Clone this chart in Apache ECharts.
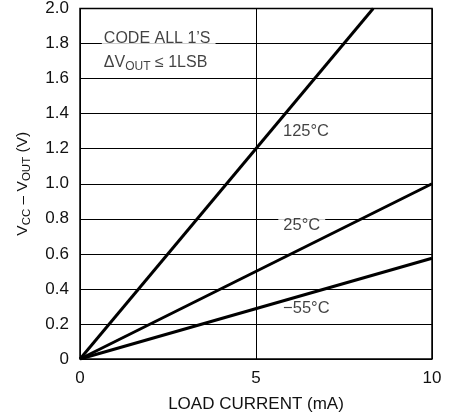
<!DOCTYPE html>
<html><head><meta charset="utf-8">
<script src="https://cdn.jsdelivr.net/npm/echarts@6/dist/echarts.min.js"></script>
<style>html,body{margin:0;padding:0;background:#fff}#c{width:458px;height:419px}</style>
</head><body><div id="c"></div>
<script>
var xTicks = [0, 5, 10];
var yTicks = [0, 0.2, 0.4, 0.6, 0.8, 1.0, 1.2, 1.4, 1.6, 1.8, 2.0];
var seriesNames = ['125°C', '25°C', '−55°C'];
var current125 = [0, 8.33];
var volt125 = [0, 2.0];
var current25 = [0, 10];
var volt25 = [0, 1.0];
var currentM55 = [0, 10];
var voltM55 = [0, 0.575];
var labelX = [6.42, 6.3, 6.43];
var labelY = [1.30, 0.76, 0.29];

var FONT = '"Liberation Sans Narrow", "Liberation Sans", Arial, sans-serif';
var TXT = '#111';
function pairs(xs, ys){ return xs.map(function(x,i){return [x, ys[i]];}); }

var chart = echarts.init(document.getElementById('c'));
var lineStyle = {color:'#000', width:3};
var series = [
  {type:'line', name:seriesNames[0], data:pairs(current125, volt125), symbol:'none', lineStyle:lineStyle, z:5},
  {type:'line', name:seriesNames[1], data:pairs(current25, volt25), symbol:'none', lineStyle:lineStyle, z:5},
  {type:'line', name:seriesNames[2], data:pairs(currentM55, voltM55), symbol:'none', lineStyle:lineStyle, z:5},
  {type:'scatter', symbolSize:0, silent:true, z:4,
   data: seriesNames.map(function(n,i){return {value:[labelX[i], labelY[i]], name:n};}),
   label:{show:true, position:'inside', formatter:'{b}', color:TXT, fontFamily:FONT, fontSize:16.5,
          backgroundColor:'#fff', padding:[1,5]}},
  {type:'scatter', symbolSize:0, silent:true, z:4,
   data:[{value:[0.62, 1.83]}],
   label:{show:true, position:'right', distance:0, formatter:'CODE ALL 1’S', color:TXT, fontFamily:FONT, fontSize:16,
          backgroundColor:'#fff', padding:[1,5,1,2]}},
  {type:'scatter', symbolSize:0, silent:true, z:4,
   data:[{value:[0.62, 1.69]}],
   label:{show:true, position:'right', distance:0, formatter:'{n|ΔV}{s|OUT}{n| ≤ 1LSB}', padding:[0,0,0,2],
          rich:{n:{color:TXT, fontFamily:FONT, fontSize:16}, s:{color:TXT, fontFamily:FONT, fontSize:12, padding:[8,0,0,0]}}}}
];

chart.setOption({
  animation:false,
  backgroundColor:'#fff',
  grid:{left:80, right:26, top:7, bottom:60, show:true, borderColor:'#000', borderWidth:1.5},
  xAxis:{type:'value', min:0, max:10, interval:5,
    axisLine:{show:false}, axisTick:{show:false},
    splitLine:{show:true, lineStyle:{color:'#000', width:1}},
    axisLabel:{color:TXT, fontFamily:FONT, fontSize:17, margin:11,
      formatter:function(v){return xTicks.indexOf(v)>=0 ? String(v) : '';}},
    name:'LOAD CURRENT (mA)', nameLocation:'middle', nameGap:37,
    nameTextStyle:{color:TXT, fontFamily:FONT, fontSize:17}},
  yAxis:{type:'value', min:0, max:2.0, interval:0.2,
    axisLine:{show:false}, axisTick:{show:false},
    splitLine:{show:true, lineStyle:{color:'#000', width:1}},
    axisLabel:{color:TXT, fontFamily:FONT, fontSize:17, margin:11,
      formatter:function(v){ var t=yTicks.filter(function(y){return Math.abs(y-v)<1e-6;}); if(!t.length) return ''; return v===0?'0':v.toFixed(1);}},
    name:'{n|V}{s|CC}{n| – V}{s|OUT}{n| (V)}', nameLocation:'middle', nameGap:47,
    nameTextStyle:{rich:{n:{color:TXT, fontFamily:FONT, fontSize:15.5}, s:{color:TXT, fontFamily:FONT, fontSize:11.5, padding:[8,0,0,0]}}}},
  series:series
});
</script></body></html>
